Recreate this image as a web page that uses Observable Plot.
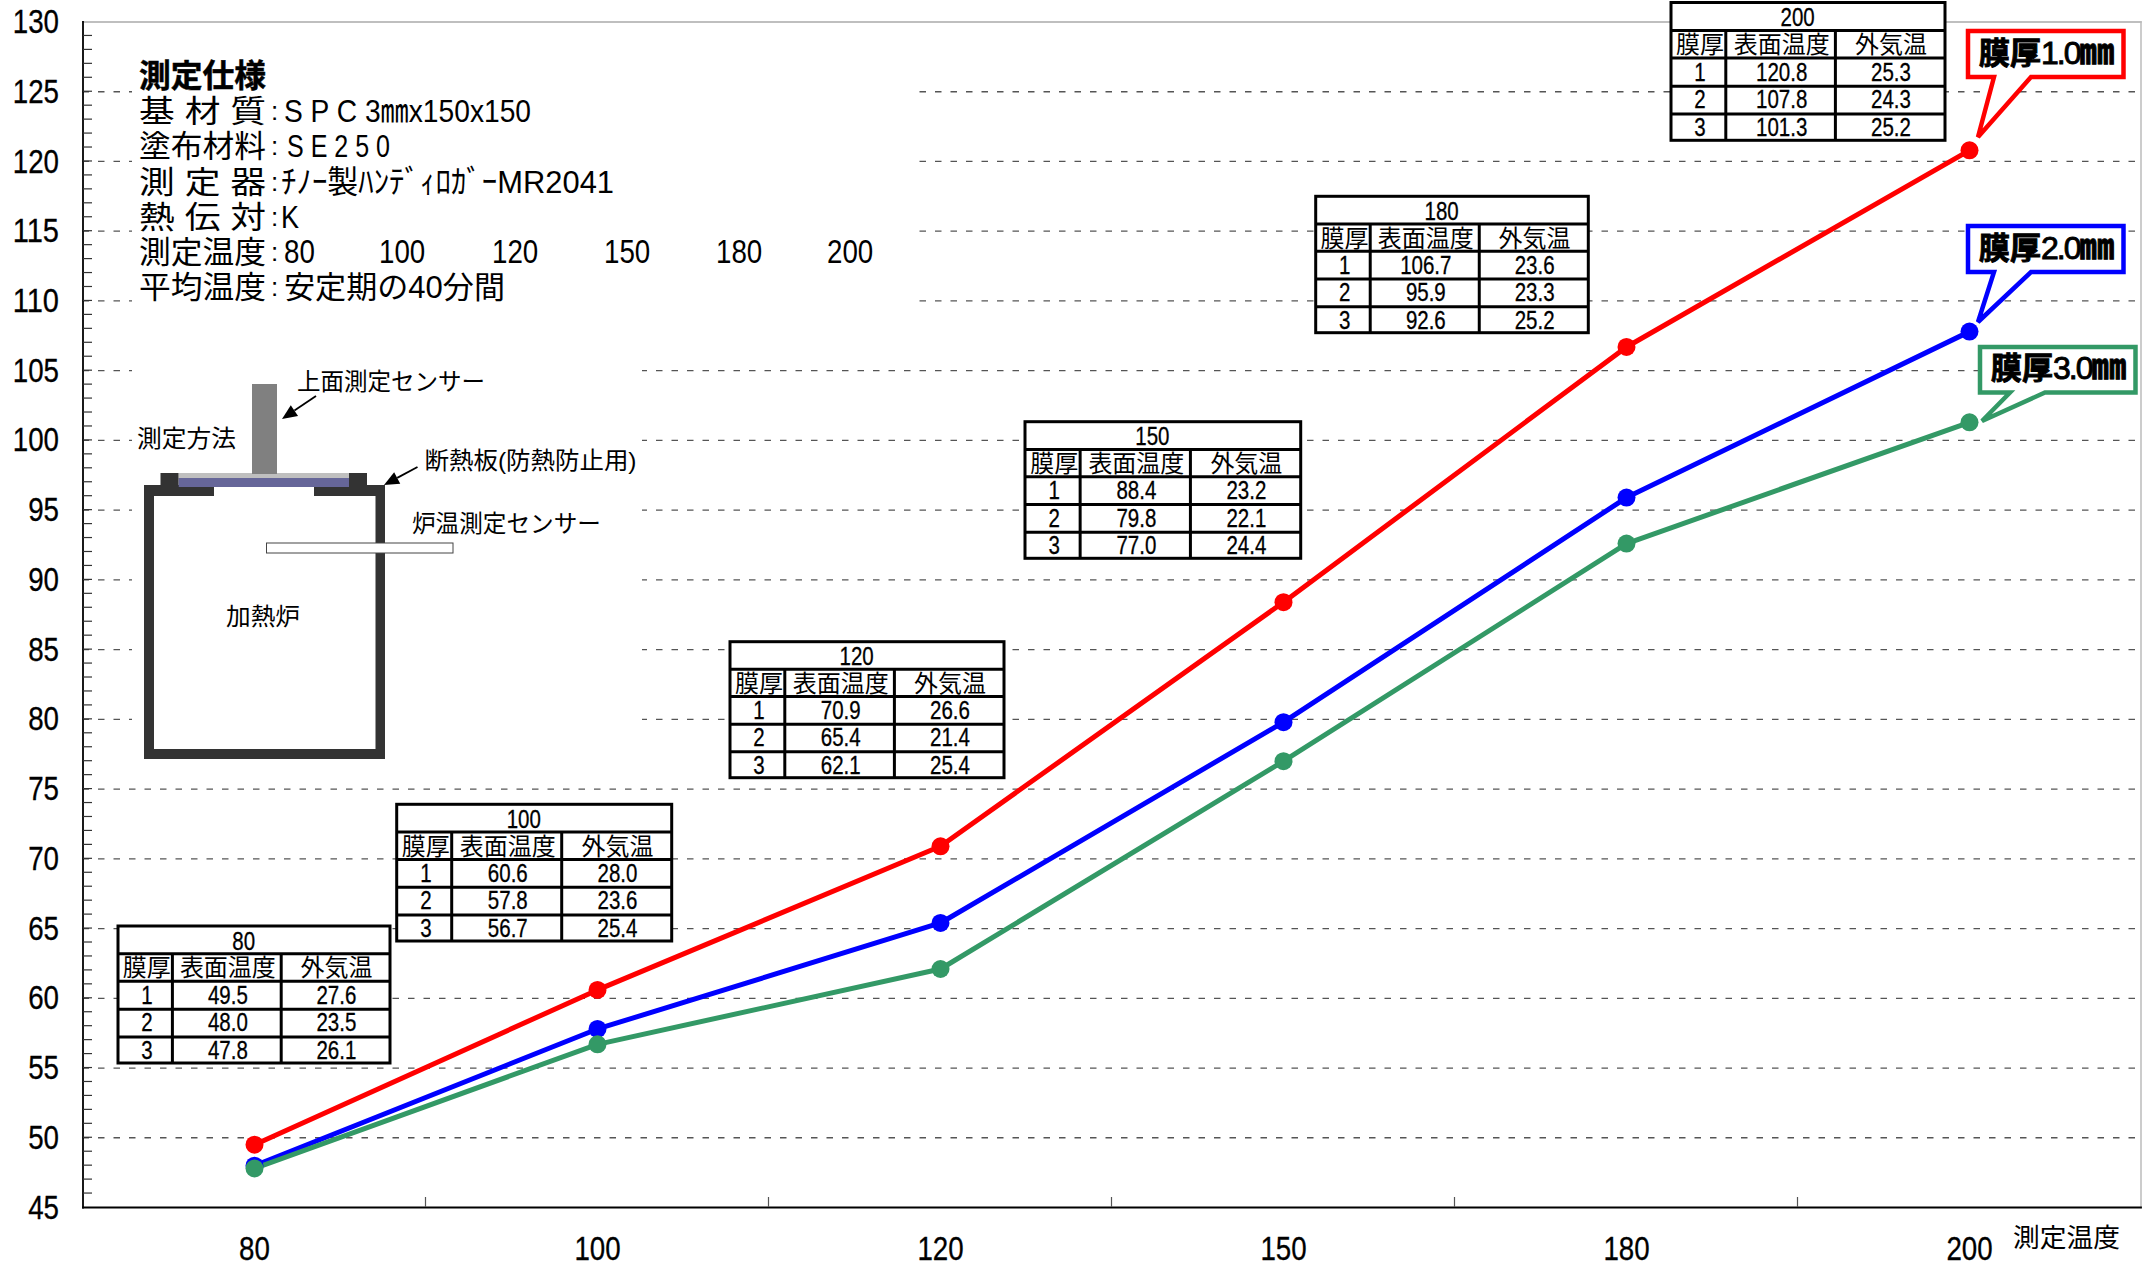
<!DOCTYPE html>
<html lang="ja">
<head>
<meta charset="utf-8">
<title>測定仕様</title>
<script src="https://cdn.jsdelivr.net/npm/d3@7"></script>
<script src="https://cdn.jsdelivr.net/npm/@observablehq/plot@0.6"></script>
<style>
html,body{margin:0;padding:0;background:#fff;}
svg{display:block;}
</style>
</head>
<body>
<div id="chart"></div>
<script>
const temperatures = [80, 100, 120, 150, 180, 200];
const seriesNames = ["膜厚1.0㎜", "膜厚2.0㎜", "膜厚3.0㎜"];
const surface1 = [49.5, 60.6, 70.9, 88.4, 106.7, 120.8];
const surface2 = [48.0, 57.8, 65.4, 79.8, 95.9, 107.8];
const surface3 = [47.8, 56.7, 62.1, 77.0, 92.6, 101.3];
const air1 = [27.6, 28.0, 26.6, 23.2, 23.6, 25.3];
const air2 = [23.5, 23.6, 21.4, 22.1, 23.3, 24.3];
const air3 = [26.1, 25.4, 25.4, 24.4, 25.2, 25.2];
const tableHeaders = ["膜厚", "表面温度", "外気温"];
const specTitle = "測定仕様";
const specLabels = ["基 材 質", "塗布材料", "測 定 器", "熱 伝 対", "測定温度", "平均温度"];
const specValues = ["S P C 3㎜x150x150", "S E 2 5 0", "ﾁﾉｰ製ﾊﾝﾃﾞｨﾛｶﾞｰMR2041", "K", "", "安定期の40分間"];
const yMajor = d3.range(45, 131, 5);
const yMinor = d3.range(45, 131, 1);

const red = "#ff0000", blue = "#0000ff", green = "#339966";
const colors = [red, blue, green];
const FONT = '"Liberation Sans","Noto Sans CJK JP",sans-serif';

const rows = [surface1, surface2, surface3].flatMap((vals, s) =>
  vals.map((v, i) => ({series: seriesNames[s], temp: temperatures[i], value: v})));

function latinW(str, size, k = 0.82) {
  let w = 0;
  for (const c of String(str)) w += (c === "." ? 0.278 : 0.556);
  return w * size * k;
}
function txt(g, str, x, y, o = {}) {
  const size = o.size || 24;
  const t = g.append("text")
    .attr("x", x).attr("y", y + 0.36 * size)
    .attr("font-size", size).attr("font-family", FONT)
    .attr("text-anchor", o.anchor || "start")
    .attr("font-weight", o.weight || 400)
    .attr("fill", "#000").text(str);
  if (o.w) t.attr("textLength", o.w).attr("lengthAdjust", "spacingAndGlyphs");
  if (o.halo) t.attr("stroke", "#000").attr("stroke-width", o.halo);
  return t;
}
function box(g, x, y, w, h, fill, stroke, sw) {
  return g.append("rect").attr("x", x).attr("y", y).attr("width", w).attr("height", h)
    .attr("fill", fill).attr("stroke", stroke || "none").attr("stroke-width", sw || 0);
}

// white areas behind the specification text and diagram
function maskMark(index, scales, values, dims, ctx) {
  const g = d3.select(ctx.document.createElementNS("http://www.w3.org/2000/svg", "g"));
  box(g, 132, 23, 786, 318, "#fff");
  box(g, 132, 341, 510, 419, "#fff");
  return g.node();
}

function axisTicksMark(index, scales, values, dims, ctx) {
  const g = d3.select(ctx.document.createElementNS("http://www.w3.org/2000/svg", "g"));
  for (const v of yMinor) {
    if (v === 45 || v === 130) continue;
    g.append("line").attr("x1", 83).attr("x2", 92).attr("y1", scales.y(v)).attr("y2", scales.y(v))
      .attr("stroke", "#333").attr("stroke-width", 1.2);
  }
  const step = scales.x(temperatures[1]) - scales.x(temperatures[0]);
  temperatures.slice(0, -1).forEach(t => {
    const x = scales.x(t) + step / 2;
    g.append("line").attr("x1", x).attr("x2", x).attr("y1", 1207).attr("y2", 1197)
      .attr("stroke", "#555").attr("stroke-width", 1.2);
  });
  return g.node();
}

function drawTable(g, i, x0, y0, W, H) {
  const sw = 3, ink = 0.3;
  box(g, x0, y0, W, H, "#fff", "#000", sw);
  const c1 = 0.2 * W, c2 = 0.6 * W;
  for (const r of [0.203, 0.403, 0.607, 0.81])
    g.append("line").attr("x1", x0).attr("x2", x0 + W).attr("y1", y0 + r * H).attr("y2", y0 + r * H)
      .attr("stroke", "#000").attr("stroke-width", sw);
  for (const c of [c1, c2])
    g.append("line").attr("x1", x0 + c).attr("x2", x0 + c).attr("y1", y0 + 0.203 * H).attr("y2", y0 + H)
      .attr("stroke", "#000").attr("stroke-width", sw);
  const cx = [x0 + 0.106 * W, x0 + 0.404 * W, x0 + 0.803 * W];
  const title = String(temperatures[i]);
  txt(g, title, x0 + 0.462 * W, y0 + 0.108 * H, {size: 25, anchor: "middle", w: latinW(title, 25), halo: ink});
  tableHeaders.forEach((h, k) => txt(g, h, cx[k], y0 + 0.305 * H, {size: 24, anchor: "middle", w: k === 0 ? 48 : h.length * 24}));
  const ys = [0.503, 0.703, 0.905];
  [[surface1, air1], [surface2, air2], [surface3, air3]].forEach(([s, a], r) => {
    const no = String(r + 1), sv = s[i].toFixed(1), av = a[i].toFixed(1);
    txt(g, no, cx[0], y0 + ys[r] * H, {size: 25, anchor: "middle", w: latinW(no, 25), halo: ink});
    txt(g, sv, cx[1], y0 + ys[r] * H, {size: 25, anchor: "middle", w: latinW(sv, 25), halo: ink});
    txt(g, av, cx[2], y0 + ys[r] * H, {size: 25, anchor: "middle", w: latinW(av, 25), halo: ink});
  });
}

function callout(g, label, color, x0, y0, x1, y1, bx0, bx1, tx, ty, lx, ly) {
  const pts = [[x0, y0], [x1, y0], [x1, y1], [bx1, y1], [tx, ty], [bx0, y1], [x0, y1]];
  g.append("polygon").attr("points", pts.map(p => p.join(",")).join(" "))
    .attr("fill", "#fff").attr("stroke", color).attr("stroke-width", 4.5).attr("stroke-linejoin", "miter");
  const t = g.append("text").attr("x", lx).attr("y", ly + 11)
    .attr("font-family", FONT).attr("text-anchor", "start").attr("fill", "#000")
    .attr("stroke", "#000").attr("stroke-width", 0.9);
  t.append("tspan").attr("font-size", 31).attr("font-weight", 700).text(label.slice(0, 2));
  t.append("tspan").attr("font-size", 32).attr("font-weight", 400).attr("letter-spacing", -2).text(label.slice(2, 5));
  t.append("tspan").attr("font-size", 35).attr("font-weight", 700).text(label.slice(5));
}

function arrow(g, x1, y1, x2, y2) {
  const a = Math.atan2(y2 - y1, x2 - x1), L = 15, H = 6.5;
  const bx = x2 - L * Math.cos(a), by = y2 - L * Math.sin(a);
  g.append("line").attr("x1", x1).attr("y1", y1).attr("x2", bx).attr("y2", by)
    .attr("stroke", "#000").attr("stroke-width", 1.8);
  g.append("polygon").attr("fill", "#000").attr("points", [
    [x2, y2],
    [bx - H * Math.sin(a), by + H * Math.cos(a)],
    [bx + H * Math.sin(a), by - H * Math.cos(a)]
  ].map(p => p.join(",")).join(" "));
}

function annotationMark(index, scales, values, dims, ctx) {
  const g = d3.select(ctx.document.createElementNS("http://www.w3.org/2000/svg", "g"));

  // specification block
  txt(g, specTitle, 139, 75, {size: 32, weight: 700, w: 127, halo: 0.5});
  const lineY = [110.5, 145.5, 181.5, 216.5, 251.5, 286.5];
  specLabels.forEach((s, i) => {
    txt(g, s, 139, lineY[i], {size: 31, w: 127});
    txt(g, ":", 271, lineY[i], {size: 26});
  });
  txt(g, specValues[0], 284, lineY[0], {size: 32, w: 247});
  txt(g, specValues[1], 287, lineY[1], {size: 32, w: 103});
  txt(g, specValues[2], 281, lineY[2], {size: 32, w: 333});
  txt(g, specValues[3], 281, lineY[3], {size: 32, w: 18});
  const tx = [284, 379, 492, 604, 716, 827];
  temperatures.forEach((t, i) => txt(g, String(t), tx[i], lineY[4], {size: 33, w: latinW(t, 33, 0.84)}));
  txt(g, specValues[5], 284, lineY[5], {size: 31, w: 221});

  // furnace diagram
  const wall = "#333333";
  box(g, 144, 485, 10, 274, wall);
  box(g, 375.5, 485, 9.5, 274, wall);
  box(g, 144, 749, 241, 10, wall);
  box(g, 144, 485, 70, 11, wall);
  box(g, 314, 485, 71, 11, wall);
  box(g, 178.5, 473, 170.5, 5.5, "#bfbfbf");
  box(g, 178.5, 478, 170.5, 9, "#666699");
  box(g, 160.5, 473, 18, 14, wall);
  box(g, 349, 473, 18, 14, wall);
  box(g, 252, 384, 25, 90, "#808080");
  box(g, 266.5, 543, 186.5, 10, "#fff", "#444", 1);
  arrow(g, 316, 396, 282, 419);
  arrow(g, 417.5, 467, 384, 485);
  txt(g, "上面測定センサー", 297, 381, {size: 24, w: 188});
  txt(g, "測定方法", 137, 438, {size: 24, w: 99});
  txt(g, "断熱板(防熱防止用)", 424.5, 460, {size: 24, w: 212});
  txt(g, "炉温測定センサー", 412, 523, {size: 24, w: 189});
  txt(g, "加熱炉", 226, 616, {size: 24, w: 74});

  // tables
  const tablePos = [[118, 926, 272, 137], [396.7, 804.3, 275, 136.7], [730, 641.7, 274, 136], [1025, 421.7, 275.7, 136.6], [1315.7, 196.3, 272.6, 136.4], [1671, 2.5, 274, 137.8]];
  tablePos.forEach(([x, y, w, h], i) => drawTable(g, i, x, y, w, h));

  // callouts
  callout(g, seriesNames[0], red, 1968, 31, 2123.5, 77, 1994, 2031, 1978, 137, 1979, 53);
  callout(g, seriesNames[1], blue, 1968, 226, 2123.5, 272, 1994, 2031, 1978, 322, 1979, 248);
  callout(g, seriesNames[2], green, 1980, 347, 2135.5, 392.5, 2010, 2045, 1982, 421, 1991, 368);

  // axis caption
  txt(g, "測定温度", 2013, 1238, {size: 26, w: 107});
  return g.node();
}

const plot = Plot.plot({
  width: 2143,
  height: 1264,
  marginLeft: 82.5,
  marginRight: 2.5,
  marginTop: 21.5,
  marginBottom: 57,
  style: {background: "#fff", fontFamily: FONT, color: "#000", overflow: "visible"},
  x: {type: "point", domain: temperatures, padding: 0.5, label: null},
  y: {domain: [45, 130], label: null},
  color: {domain: seriesNames, range: colors},
  marks: [
    Plot.ruleY(yMajor.filter(v => v > 45 && v < 130), {y: d => d, stroke: "#555", strokeWidth: 1.3, strokeDasharray: "6.5 9"}),
    maskMark,
    Plot.frame({anchor: "top", stroke: "#aaa", strokeWidth: 1.5}),
    Plot.frame({anchor: "right", stroke: "#bbb", strokeWidth: 1.5}),
    Plot.frame({anchor: "left", stroke: "#000", strokeWidth: 1.8}),
    Plot.frame({anchor: "bottom", stroke: "#000", strokeWidth: 1.8}),
    axisTicksMark,
    Plot.axisY({ticks: yMajor, tickSize: 0, tickPadding: 24, fontSize: 33, label: null, dy: 0.5}),
    Plot.axisX({tickSize: 0, tickPadding: 29, fontSize: 33, label: null}),
    Plot.line(rows, {x: "temp", y: "value", z: "series", stroke: "series", strokeWidth: 5, curve: "linear"}),
    Plot.dot(rows, {x: "temp", y: "value", fill: "series", r: 9, stroke: "none"}),
    annotationMark
  ]
});
[...plot.querySelectorAll("text")]
  .filter(t => /^\d+$/.test(t.textContent) && t.closest('g[aria-label$="tick label"]'))
  .forEach(t => {
    t.style.fontSize = "33px";
    t.setAttribute("stroke", "#000");
    t.setAttribute("stroke-width", 0.3);
    t.setAttribute("textLength", latinW(t.textContent, 33, 0.84));
    t.setAttribute("lengthAdjust", "spacingAndGlyphs");
  });
document.getElementById("chart").appendChild(plot);
</script>
</body>
</html>
